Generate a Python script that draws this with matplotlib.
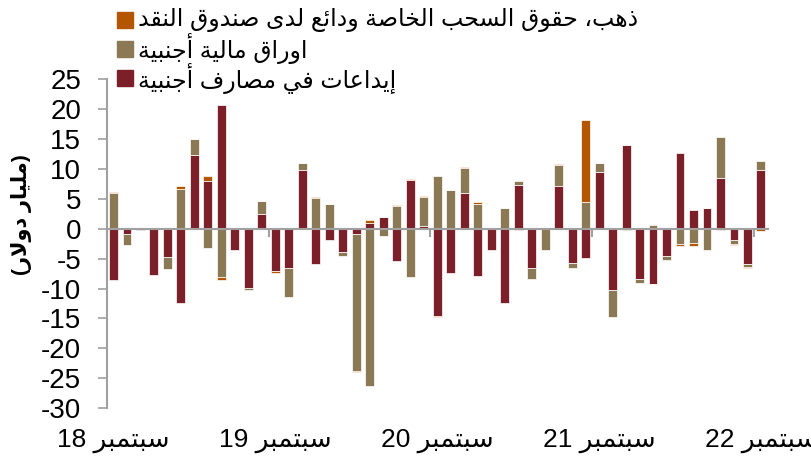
import matplotlib
matplotlib.use('Agg')
import matplotlib.pyplot as plt
import matplotlib.transforms as mtransforms
from matplotlib.patches import Rectangle
import numpy as np

plt.rcParams['font.family'] = ['Liberation Sans', 'DejaVu Sans']
plt.rcParams['axes.unicode_minus'] = False

# monthly flows, Sep 2018 .. Sep 2022 (billion dollars)
deposits = [-8.5, -0.95, -0.3, -7.8, -4.8, -12.4, 12.25, 7.95, 20.6, -3.5,
            -9.85, 2.5, -7.0, -6.6, 9.75, -5.85, -1.95, -3.95, -0.9, 0.95,
            1.95, -5.4, 8.2, 0.45, -14.65, -7.4, 5.95, -7.85, -3.5, -12.35,
            7.25, -6.5, 0.0, 7.15, -5.7, -4.85, 9.45, -10.3, 13.9, -8.35,
            -9.2, -4.6, 12.7, 3.05, 3.5, 8.45, -1.85, -5.85, 9.75]
securities = [6.0, -1.7, 0.0, 0.0, -1.9, 6.7, 2.8, -3.2, -8.05, 0.0,
              -0.45, 2.05, 0.0, -4.8, 1.3, 5.1, 4.2, -0.55, -22.9, -26.2,
              -1.3, 3.85, -8.15, 4.8, 8.85, 6.5, 4.25, 4.2, 0.0, 3.5,
              0.65, -1.85, -3.6, 3.55, -0.85, 4.45, 1.45, -4.45, 0.0, -0.65,
              0.65, -0.65, -2.6, -2.35, -3.6, 6.9, -0.65, -0.5, 1.6]
gold_sdr = [0.15, 0.0, 0.0, 0.0, 0.0, 0.4, 0.0, 0.85, -0.45, 0.0,
            0.0, 0.0, -0.35, 0.0, 0.0, 0.2, 0.0, 0.0, -0.15, 0.5,
            0.0, 0.1, 0.15, 0.15, -0.1, 0.0, 0.15, 0.3, 0.0, 0.0,
            -0.3, 0.0, 0.0, 0.15, 0.0, 13.7, 0.0, 0.0, -0.3, 0.0,
            -0.1, 0.0, -0.3, -0.5, 0.0, -0.2, -0.15, -0.3, -0.4]

year_labels = ['18', '19', '20', '21', '22']
month_name = 'سبتمبر'
series_names = ['ذهب، حقوق السحب الخاصة ودائع لدى صندوق النقد',
                'اوراق مالية أجنبية',
                'إيداعات في مصارف أجنبية']
y_title = 'مليار دولار'

# Arabic presentation forms: (first form code, joins on both sides)
FORMS = {
    'آ': (0xFE81, False), 'أ': (0xFE83, False), 'ؤ': (0xFE85, False),
    'إ': (0xFE87, False), 'ئ': (0xFE89, True), 'ا': (0xFE8D, False),
    'ب': (0xFE8F, True), 'ة': (0xFE93, False), 'ت': (0xFE95, True),
    'ث': (0xFE99, True), 'ج': (0xFE9D, True), 'ح': (0xFEA1, True),
    'خ': (0xFEA5, True), 'د': (0xFEA9, False), 'ذ': (0xFEAB, False),
    'ر': (0xFEAD, False), 'ز': (0xFEAF, False), 'س': (0xFEB1, True),
    'ش': (0xFEB5, True), 'ص': (0xFEB9, True), 'ض': (0xFEBD, True),
    'ط': (0xFEC1, True), 'ظ': (0xFEC5, True), 'ع': (0xFEC9, True),
    'غ': (0xFECD, True), 'ف': (0xFED1, True), 'ق': (0xFED5, True),
    'ك': (0xFED9, True), 'ل': (0xFEDD, True), 'م': (0xFEE1, True),
    'ن': (0xFEE5, True), 'ه': (0xFEE9, True), 'و': (0xFEED, False),
    'ى': (0xFEEF, False), 'ي': (0xFEF1, True),
}
LAM_ALEF = {'آ': 0xFEF5, 'أ': 0xFEF7, 'إ': 0xFEF9, 'ا': 0xFEFB}


def rtl(text):
    """Shape Arabic letters and return them in visual (left to right) order."""
    out = []
    prev_joins = False
    i = 0
    while i < len(text):
        c = text[i]
        nxt = text[i + 1] if i + 1 < len(text) else ''
        if c == 'ل' and nxt in LAM_ALEF:
            out.append(chr(LAM_ALEF[nxt] + (1 if prev_joins else 0)))
            prev_joins = False
            i += 2
            continue
        if c not in FORMS:
            out.append(c)
            prev_joins = False
            i += 1
            continue
        base, dual = FORMS[c]
        next_joins = dual and nxt in FORMS
        if dual:
            if prev_joins and next_joins:
                form = 3
            elif prev_joins:
                form = 1
            elif next_joins:
                form = 2
            else:
                form = 0
        else:
            form = 1 if prev_joins else 0
        out.append(chr(base + form))
        prev_joins = dual
        i += 1
    return ''.join(reversed(out))


red = '#7B2029'
tan = '#8B7855'
orange = '#B45500'
grey = '#A0A0A0'

W, H = 811, 457
fig = plt.figure(figsize=(W / 100, H / 100), dpi=100)
ax = fig.add_axes([0.1316, 0.1066, 0.815, 0.7205])

x = np.arange(len(deposits))
pos_base = np.zeros(len(x))
neg_base = np.zeros(len(x))
for vals, color in zip([deposits, securities, gold_sdr], [red, tan, orange]):
    vals = np.array(vals)
    bottom = np.where(vals >= 0, pos_base, neg_base)
    ax.bar(x, vals, 0.66, bottom=bottom, color=color,
           edgecolor='white', linewidth=0.5, zorder=1)
    pos_base += np.clip(vals, 0, None)
    neg_base += np.clip(vals, None, 0)

ax.set_xlim(-0.5, len(x) - 0.5)
ax.set_ylim(-30, 25)
ax.set_yticks(np.arange(-30, 26, 5))
ax.spines['top'].set_visible(False)
ax.spines['right'].set_visible(False)
ax.spines['bottom'].set_position(('data', 0))
for side in ['left', 'bottom']:
    ax.spines[side].set_color(grey)
    ax.spines[side].set_linewidth(1.5)
ax.set_xticks(np.arange(-0.5, len(x), 12))
ax.tick_params(axis='x', length=6, width=1.5, color=grey, labelbottom=False)
ax.tick_params(axis='y', length=6.5, width=1.2, color=grey, pad=12,
               labelsize=20)

# month labels under the plot, one per September
trans = mtransforms.blended_transform_factory(ax.transData, fig.transFigure)
for k, yr in enumerate(year_labels):
    ax.text(k * 12, 0.035, yr + ' ' + rtl(month_name), transform=trans,
            ha='center', va='center', fontsize=19, clip_on=False)

fig.text(0.027, 0.53, '(' + rtl(y_title) + ')', rotation=90,
         ha='center', va='center', fontsize=15, fontweight='bold')

# legend drawn row by row so the rows sit at even steps
for k, (name, color) in enumerate(zip(series_names, [orange, tan, red])):
    yc = 1 - (20 + 29 * k) / H
    fig.add_artist(Rectangle((117 / W, yc - 8 / H), 16 / W, 16 / H,
                             transform=fig.transFigure, color=color))
    fig.text(138 / W, yc, rtl(name), ha='left', va='center', fontsize=17)

fig.savefig('out.png', dpi=100)
